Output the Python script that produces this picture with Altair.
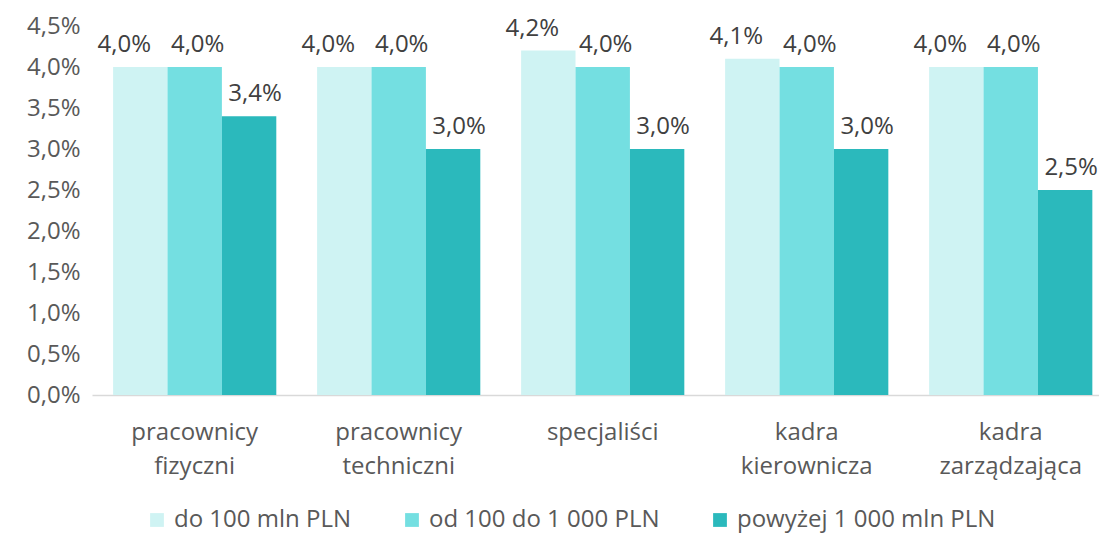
import altair as alt
import pandas as pd

categories = ["pracownicy fizyczni", "pracownicy techniczni", "specjaliści", "kadra kierownicza", "kadra zarządzająca"]
series = ["do 100 mln PLN", "od 100 do 1 000 PLN", "powyżej 1 000 mln PLN"]
s1 = [0.040, 0.040, 0.042, 0.041, 0.040]
s2 = [0.040, 0.040, 0.040, 0.040, 0.040]
s3 = [0.034, 0.030, 0.030, 0.030, 0.025]
colors = ["#CFF3F3", "#74DFE1", "#2BB9BC"]

rows = []
for i, c in enumerate(categories):
    for name, vals in zip(series, [s1, s2, s3]):
        rows.append({"cat": c, "series": name, "value": vals[i]})
df = pd.DataFrame(rows)

FONT = "Open Sans"
FS = 24

base = alt.Chart(df).transform_calculate(
    lbl="replace(format(datum.value, '.1%'), '.', ',')"
).encode(
    x=alt.X("cat:N", sort=categories, title=None,
            scale=alt.Scale(paddingInner=0.2, paddingOuter=0.068, align=0.76),
            axis=alt.Axis(labelExpr="split(datum.label, ' ')", labelAngle=0,
                          labelFontSize=FS, labelColor="#595959", labelFont=FONT,
                          labelPadding=25, labelLineHeight=34, ticks=False, labelLimit=0,
                          domainColor="#D9D9D9", domainWidth=1.5)),
    xOffset=alt.XOffset("series:N", sort=series, scale=alt.Scale(paddingInner=0, paddingOuter=0)),
)

bars = base.mark_bar().encode(
    y=alt.Y("value:Q", title=None,
            scale=alt.Scale(domain=[0, 0.045], nice=False),
            axis=alt.Axis(values=[i * 0.005 for i in range(10)],
                          labelExpr="replace(format(datum.value, '.1%'), '.', ',')",
                          labelFontSize=FS, labelColor="#595959", labelFont=FONT,
                          grid=False, domain=False, ticks=False, labelPadding=12)),
    color=alt.Color("series:N", sort=series,
                    scale=alt.Scale(domain=series, range=colors),
                    legend=alt.Legend(orient="none", legendX=53, legendY=482, direction="horizontal", title=None,
                                      symbolType="square", symbolSize=190, symbolStrokeWidth=0,
                                      labelFontSize=FS, labelColor="#595959", labelFont=FONT,
                                      labelLimit=0, columnPadding=48, symbolOffset=0, labelOffset=5)),
)

def labels(name, dx):
    return base.transform_filter(alt.datum.series == name).mark_text(
        baseline="bottom", dy=-10, dx=dx, fontSize=FS, color="#404040", font=FONT
    ).encode(y="value:Q", text="lbl:N")

text1 = labels(series[0], -16)
text2 = labels(series[1], 3)
text3 = labels(series[2], 6)

chart = (bars + text1 + text2 + text3).properties(
    width=1007, height=369,
    autosize=alt.AutoSizeParams(type="none"),
    padding={"left": 84, "top": 18, "right": 0, "bottom": 139},
).configure_view(stroke=None)

chart.save("out.html", embed_options={"renderer": "svg", "actions": False})
